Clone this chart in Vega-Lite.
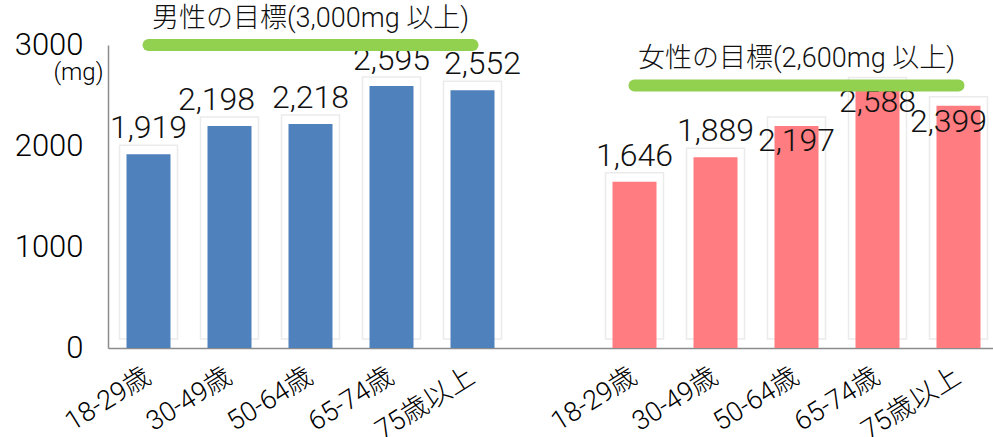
{
  "$schema": "https://vega.github.io/schema/vega-lite/v6.json",
  "width": 891,
  "height": 303,
  "autosize": {"type": "none"},
  "padding": {"left": 108, "top": 45, "right": 0, "bottom": 89},
  "background": "white",
  "config": {
    "view": {"stroke": null},
    "font": "Noto Sans CJK JP"
  },
  "datasets": {
    "bars": [
      {"key": "M|18-29歳", "sex": "男性", "value": 1919, "label": "1,919"},
      {"key": "M|30-49歳", "sex": "男性", "value": 2198, "label": "2,198"},
      {"key": "M|50-64歳", "sex": "男性", "value": 2218, "label": "2,218"},
      {"key": "M|65-74歳", "sex": "男性", "value": 2595, "label": "2,595"},
      {"key": "M|75歳以上", "sex": "男性", "value": 2552, "label": "2,552"},
      {"key": "F|18-29歳", "sex": "女性", "value": 1646, "label": "1,646"},
      {"key": "F|30-49歳", "sex": "女性", "value": 1889, "label": "1,889"},
      {"key": "F|50-64歳", "sex": "女性", "value": 2197, "label": "2,197"},
      {"key": "F|65-74歳", "sex": "女性", "value": 2588, "label": "2,588"},
      {"key": "F|75歳以上", "sex": "女性", "value": 2399, "label": "2,399"}
    ],
    "goals": [
      {"sex": "男性", "goal": 3000, "start": "M|18-29歳", "end": "M|75歳以上", "mid": "M|50-64歳", "text": "男性の目標(3,000mg 以上)"},
      {"sex": "女性", "goal": 2600, "start": "F|18-29歳", "end": "F|75歳以上", "mid": "F|50-64歳", "text": "女性の目標(2,600mg 以上)"}
    ]
  },
  "layer": [
    {
      "data": {"name": "bars"},
      "mark": {"type": "bar", "width": 58, "yOffset": -9, "color": "white", "stroke": "#ebebeb", "strokeWidth": 1.5},
      "encoding": {
        "x": {
          "field": "key",
          "type": "nominal",
          "sort": null,
          "scale": {
            "domain": ["M|18-29歳", "M|30-49歳", "M|50-64歳", "M|65-74歳", "M|75歳以上", "gap|", "F|18-29歳", "F|30-49歳", "F|50-64歳", "F|65-74歳", "F|75歳以上"],
            "paddingInner": 0, "paddingOuter": 0
          },
          "axis": {
            "title": null,
            "labelExpr": "split(datum.label, '|')[1]",
            "labelAngle": -32,
            "labelAlign": "right",
            "labelBaseline": "middle",
            "labelFont": "Roboto, Noto Sans CJK JP",
            "labelFontWeight": 300,
            "labelFontSize": 27,
            "labelColor": "#000000",
            "labelPadding": 26,
            "ticks": false,
            "domainColor": "#8c8c8c",
            "domainWidth": 1.5
          }
        },
        "y": {
          "field": "value",
          "type": "quantitative",
          "scale": {"domain": [0, 3000], "nice": false},
          "axis": {
            "values": [0, 1000, 2000, 3000],
            "format": "d",
            "grid": false,
            "ticks": false,
            "labelFontSize": 31,
            "labelFont": "Roboto",
            "labelFontWeight": 300,
            "labelColor": "#000000",
            "labelPadding": 25,
            "domainColor": "#8c8c8c",
            "domainWidth": 1.5,
            "title": "(mg)",
            "titleAngle": 0,
            "titleAlign": "right",
            "titleBaseline": "middle",
            "titleX": -5,
            "titleY": 27,
            "titleFont": "Roboto",
            "titleFontSize": 24,
            "titleFontWeight": 300,
            "titleColor": "#000000"
          }
        }
      }
    },
    {
      "data": {"name": "bars"},
      "mark": {"type": "bar", "width": 44},
      "encoding": {
        "x": {"field": "key", "type": "nominal", "sort": null},
        "y": {"field": "value", "type": "quantitative"},
        "color": {
          "field": "sex",
          "type": "nominal",
          "scale": {"domain": ["男性", "女性"], "range": ["#4F81BD", "#FF7C80"]},
          "legend": null
        }
      }
    },
    {
      "data": {"name": "bars"},
      "transform": [{"filter": {"field": "label", "oneOf": ["1,919", "2,218", "2,595", "1,646", "1,889"]}}],
      "mark": {"type": "text", "dy": -26, "fontSize": 32, "font": "Roboto", "fontWeight": 300, "color": "#111111"},
      "encoding": {
        "x": {"field": "key", "type": "nominal", "sort": null},
        "y": {"field": "value", "type": "quantitative"},
        "text": {"field": "label"}
      }
    },
    {
      "data": {"name": "bars"},
      "transform": [{"filter": {"field": "label", "oneOf": ["2,198"]}}],
      "mark": {"type": "text", "dy": -26, "dx": -13, "fontSize": 32, "font": "Roboto", "fontWeight": 300, "color": "#111111"},
      "encoding": {
        "x": {"field": "key", "type": "nominal", "sort": null},
        "y": {"field": "value", "type": "quantitative"},
        "text": {"field": "label"}
      }
    },
    {
      "data": {"name": "bars"},
      "transform": [{"filter": {"field": "label", "oneOf": ["2,552"]}}],
      "mark": {"type": "text", "dy": -26, "dx": 10, "fontSize": 32, "font": "Roboto", "fontWeight": 300, "color": "#111111"},
      "encoding": {
        "x": {"field": "key", "type": "nominal", "sort": null},
        "y": {"field": "value", "type": "quantitative"},
        "text": {"field": "label"}
      }
    },
    {
      "data": {"name": "bars"},
      "transform": [{"filter": {"field": "label", "oneOf": ["2,197", "2,588"]}}],
      "mark": {"type": "text", "dy": 15, "fontSize": 32, "font": "Roboto", "fontWeight": 300, "color": "#111111"},
      "encoding": {
        "x": {"field": "key", "type": "nominal", "sort": null},
        "y": {"field": "value", "type": "quantitative"},
        "text": {"field": "label"}
      }
    },
    {
      "data": {"name": "bars"},
      "transform": [{"filter": {"field": "label", "oneOf": ["2,399"]}}],
      "mark": {"type": "text", "dy": 16, "dx": -10, "fontSize": 32, "font": "Roboto", "fontWeight": 300, "color": "#111111"},
      "encoding": {
        "x": {"field": "key", "type": "nominal", "sort": null},
        "y": {"field": "value", "type": "quantitative"},
        "text": {"field": "label"}
      }
    },
    {
      "data": {"name": "goals"},
      "mark": {"type": "rule", "strokeWidth": 12, "strokeCap": "round", "color": "#92D050"},
      "encoding": {
        "x": {"field": "start", "type": "nominal", "sort": null},
        "x2": {"field": "end"},
        "y": {"field": "goal", "type": "quantitative"}
      }
    },
    {
      "data": {"name": "goals"},
      "mark": {"type": "text", "dy": -26, "fontSize": 27, "font": "Roboto, Noto Sans CJK JP", "fontWeight": 300, "color": "#111111"},
      "encoding": {
        "x": {"field": "mid", "type": "nominal", "sort": null},
        "y": {"field": "goal", "type": "quantitative"},
        "text": {"field": "text"}
      }
    }
  ]
}
